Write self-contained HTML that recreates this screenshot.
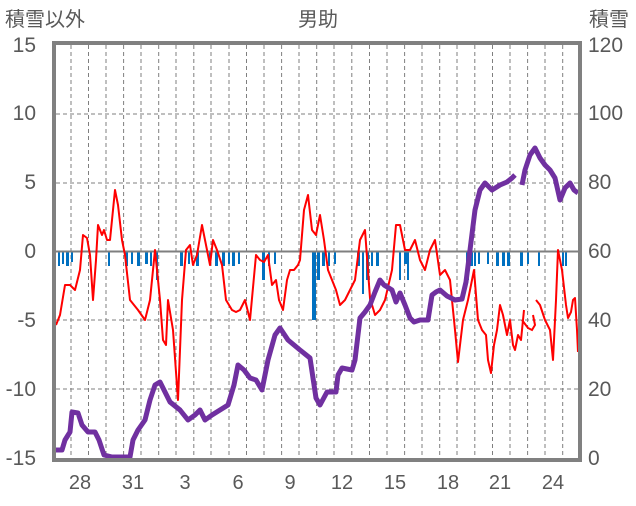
<!DOCTYPE html>
<html><head><meta charset="utf-8"><style>
html,body{margin:0;padding:0;background:#fff;}
svg text{font-family:"Liberation Sans","Noto Sans CJK JP",sans-serif;fill:#595959;}
</style></head><body>
<svg width="636" height="501" viewBox="0 0 636 501" xmlns="http://www.w3.org/2000/svg">
<text x="5" y="26" font-size="20">積雪以外</text>
<text x="298" y="26" font-size="20">男助</text>
<text x="589" y="26" font-size="20">積雪</text>
<g font-size="21" text-anchor="end">
<text x="36" y="52">15</text><text x="36" y="120">10</text><text x="36" y="189">5</text><text x="36" y="258">0</text>
<text x="36" y="327">-5</text><text x="36" y="396">-10</text><text x="36" y="465">-15</text>
</g>
<g font-size="21" text-anchor="start">
<text x="588" y="52">120</text><text x="588" y="120">100</text><text x="588" y="189">80</text><text x="588" y="258">60</text>
<text x="588" y="327">40</text><text x="588" y="396">20</text><text x="588" y="465">0</text>
</g>
<g font-size="20" text-anchor="middle">
<text x="80" y="489">28</text><text x="133" y="489">31</text><text x="185" y="489">3</text><text x="238" y="489">6</text>
<text x="290" y="489">9</text><text x="342" y="489">12</text><text x="395" y="489">15</text><text x="448" y="489">18</text>
<text x="500" y="489">21</text><text x="553" y="489">24</text>
</g>
<g stroke="#7f7f7f" stroke-width="1" stroke-dasharray="4,3">
<path d="M56 114H578M56 183H578M56 320H578M56 389H578"/>
<path d="M71 45V458M88.5 45V458M106 45V458M123.6 45V458M141 45V458M158.7 45V458M176 45V458M193.8 45V458M211 45V458M229 45V458M246.5 45V458M264 45V458M281.6 45V458M299 45V458M316.7 45V458M334 45V458M351.8 45V458M369.5 45V458M387 45V458M404.6 45V458M422 45V458M439.7 45V458M457 45V458M474.8 45V458M492.5 45V458M510 45V458M527.6 45V458M545 45V458M562.7 45V458"/>
</g>
<g fill="#0070c0">
<rect x="58" y="252" width="2" height="14"/><rect x="62" y="252" width="2" height="12"/><rect x="66" y="252" width="3" height="14"/><rect x="71" y="252" width="2" height="10"/>
<rect x="108" y="252" width="2" height="14"/><rect x="125" y="252" width="3" height="14"/><rect x="131" y="252" width="2" height="12"/>
<rect x="137" y="252" width="3" height="14"/><rect x="145" y="252" width="3" height="12"/><rect x="150" y="252" width="2" height="14"/><rect x="156" y="252" width="2" height="28"/>
<rect x="180" y="252" width="3" height="14"/><rect x="188" y="252" width="2" height="12"/><rect x="196" y="252" width="3" height="14"/><rect x="209" y="252" width="2" height="12"/>
<rect x="215" y="252" width="3" height="14"/><rect x="222" y="252" width="3" height="14"/><rect x="228" y="252" width="2" height="12"/><rect x="232" y="252" width="3" height="14"/><rect x="238" y="252" width="2" height="12"/>
<rect x="262" y="252" width="3" height="28"/><rect x="268" y="252" width="2" height="14"/><rect x="274" y="252" width="2" height="12"/>
<rect x="312" y="252" width="4" height="68"/><rect x="317" y="252" width="3" height="28"/><rect x="322" y="252" width="3" height="14"/><rect x="328" y="252" width="2" height="14"/><rect x="334" y="252" width="2" height="12"/>
<rect x="357" y="252" width="3" height="14"/><rect x="362" y="252" width="2" height="42"/><rect x="366" y="252" width="3" height="28"/><rect x="371" y="252" width="2" height="14"/><rect x="376" y="252" width="3" height="14"/>
<rect x="399" y="252" width="2" height="28"/><rect x="404" y="252" width="3" height="12"/><rect x="407" y="252" width="2" height="28"/>
<rect x="466" y="252" width="3" height="28"/><rect x="470" y="252" width="3" height="14"/><rect x="474" y="252" width="2" height="14"/><rect x="478" y="252" width="2" height="12"/>
<rect x="487" y="252" width="2" height="12"/><rect x="496" y="252" width="3" height="14"/><rect x="502" y="252" width="3" height="14"/><rect x="507" y="252" width="3" height="14"/>
<rect x="520" y="252" width="3" height="14"/><rect x="527" y="252" width="2" height="12"/><rect x="538" y="252" width="2" height="14"/><rect x="562" y="252" width="2" height="14"/><rect x="565" y="252" width="2" height="14"/>
</g>
<path d="M56 251.5H578" stroke="#7f7f7f" stroke-width="2"/>
<polyline fill="none" stroke="#ff0000" stroke-width="2" stroke-linejoin="round" points="56,325 60,315 65,285 70,285 75,290 80,270 83,235 87,238 90,255 93,300 96,260 98,225 102,235 104,230 107,240 110,240 115,190 118,205 122,240 125,255 130,300 138,310 145,320 150,300 155,250 160,300 163,340 166,345 168,300 173,330 178,400 182,300 186,250 190,245 193,265 197,255 202,225 205,240 210,265 213,240 217,250 222,265 226,300 232,310 236,312 240,310 245,300 250,320 256,255 260,260 264,262 268,255 272,285 276,280 279,300 283,310 287,280 290,270 294,270 298,265 300,260 304,210 308,195 312,230 316,235 320,215 324,240 328,270 332,280 336,290 340,305 345,300 350,290 355,280 360,240 365,230 370,298 375,315 380,310 385,300 392,270 396,225 400,225 405,250 410,250 415,240 420,260 425,270 430,250 435,240 440,275 445,270 450,280 455,330 458,362 460,345 463,320 468,300 474,270 478,320 482,330 486,335 488,360 491,373 494,345 497,330 500,305 503,315 507,335 510,320 513,345 515,350 518,335 521,340 524,310"/>
<polyline fill="none" stroke="#ff0000" stroke-width="2" points="522,320 528,328 532,330 535,325 533,315"/>
<polyline fill="none" stroke="#ff0000" stroke-width="2" stroke-linejoin="round" points="536,300 540,305 545,320 550,330 553,360 556,300 558,250 562,270 566,305 568,318 571,312 573,300 575,298 577,330 578,352"/>
<polyline fill="none" stroke="#7030a0" stroke-width="5" stroke-linejoin="round" points="56,450 62,450 65,440 70,432 72,412 78,413 82,425 88,432 95,432 99,440 104,455 112,457 130,457 133,440 138,430 145,420 150,400 155,385 160,382 165,392 170,402 180,410 188,420 195,415 200,410 205,420 212,415 220,410 228,405 234,385 238,365 244,370 250,378 256,380 262,390 268,360 275,335 280,328 288,340 300,350 310,358 316,398 320,405 327,392 336,392 338,375 342,368 352,370 355,360 360,318 365,312 370,305 375,292 380,280 384,285 392,290 396,302 400,293 405,305 410,318 414,322 420,320 428,320 432,295 436,292 440,290 447,296 455,300 462,299 466,282 470,250 475,210 480,190 485,183 492,190 500,185 507,182 512,178 515,175"/>
<polyline fill="none" stroke="#7030a0" stroke-width="5" stroke-linejoin="round" points="522,185 525,170 530,155 535,148 540,158 545,165 550,170 555,178 560,200 565,188 570,183 574,190 578,193"/>
<rect x="54" y="43" width="526" height="417" fill="none" stroke="#808080" stroke-width="4"/>
</svg>
</body></html>
